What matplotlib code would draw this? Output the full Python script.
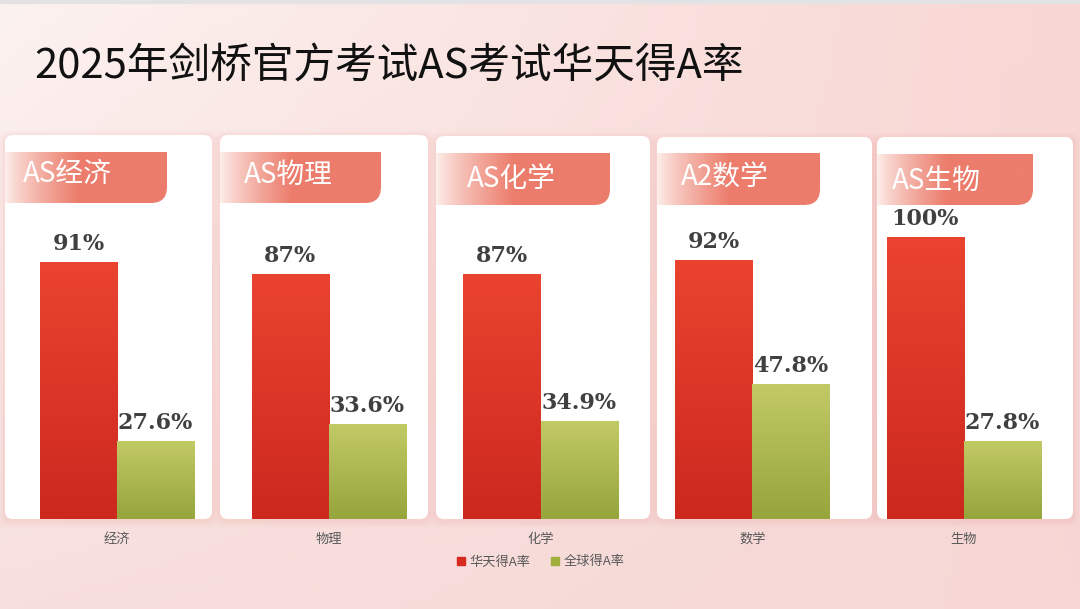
import matplotlib
matplotlib.use("Agg")
import matplotlib.pyplot as plt
from matplotlib.patches import FancyBboxPatch, PathPatch
from matplotlib.path import Path
from matplotlib.lines import Line2D
import numpy as np

plt.rcParams['font.family'] = ['Noto Sans CJK SC', 'DejaVu Sans']

# data
subjects = ["经济", "物理", "化学", "数学", "生物"]
tab_titles = ["AS经济", "AS物理", "AS化学", "A2数学", "AS生物"]
huatian_rate = [91, 87, 87, 92, 100]
global_rate = [27.6, 33.6, 34.9, 47.8, 27.8]
series_names = ["华天得A率", "全球得A率"]
title = "2025年剑桥官方考试AS考试华天得A率"

# layout (pixels, image coords)
W, H = 1080, 609
panel_x = [(5, 212), (220, 428), (436, 650), (657, 872), (877, 1073)]
panel_top = [135, 135, 136, 137, 137]
panel_bottom = 519
tab_right = [167, 381, 610, 820, 1033]
tab_y = [(152, 203), (152, 203), (153, 205), (153, 205), (154, 205)]
tab_text_x = [23, 244, 467, 681, 892]
tab_text_y = [174, 175, 179, 178, 181]

RED_TOP, RED_BOT = np.array([234, 67, 48]) / 255, np.array([204, 40, 30]) / 255
GRN_TOP, GRN_BOT = np.array([194, 202, 102]) / 255, np.array([150, 165, 60]) / 255

fig = plt.figure(figsize=(W / 100, H / 100), dpi=100)

# background layer in pixel coordinates
bg = fig.add_axes([0, 0, 1, 1])
bg.set_xlim(0, W)
bg.set_ylim(H, 0)
bg.axis("off")

tl, tr = np.array([252, 242, 240]), np.array([248, 214, 211])
bl, br = np.array([247, 223, 221]), np.array([246, 215, 213])
u = np.linspace(0, 1, 200)[None, :, None]
v = np.linspace(0, 1, 120)[:, None, None]
grad = ((1 - u) * (1 - v) * tl + u * (1 - v) * tr + (1 - u) * v * bl + u * v * br) / 255
bg.imshow(grad, extent=(0, W, H, 0), aspect="auto", zorder=0)
bg.add_patch(plt.Rectangle((0, 0), W, 3, color="#e3e3e5", zorder=1))

bg.text(34, 78, title, fontsize=30, fontweight="medium", color="#111111",
        va="baseline", ha="left", zorder=5)

tab_grad = np.zeros((1, 200, 3))
for i in range(200):
    t = min(i / 90.0, 1.0)
    c0 = np.array([253, 240, 236]) / 255
    c1 = np.array([236, 124, 107]) / 255
    tab_grad[0, i] = c0 + (c1 - c0) * (t ** 0.8)

for k in range(len(subjects)):
    x0, x1 = panel_x[k]
    y0 = panel_top[k]
    # soft glow
    for pad, a in [(6, 0.05), (4, 0.06), (2, 0.08)]:
        bg.add_patch(FancyBboxPatch((x0, y0 + 2), x1 - x0, panel_bottom - y0,
                                    boxstyle=f"round,pad={pad},rounding_size=10",
                                    fc=(0.93, 0.6, 0.58, a), ec="none", zorder=1))
    bg.add_patch(FancyBboxPatch((x0, y0), x1 - x0, panel_bottom - y0,
                                boxstyle="round,pad=0,rounding_size=8",
                                fc="white", ec="none", zorder=2))
    # tab with rounded bottom-right corner
    ty0, ty1 = tab_y[k]
    r = 16
    xr = tab_right[k]
    verts = [(x0, ty0), (xr, ty0), (xr, ty1 - r), (xr, ty1), (xr - r, ty1), (x0, ty1), (x0, ty0)]
    codes = [Path.MOVETO, Path.LINETO, Path.LINETO, Path.CURVE3, Path.CURVE3, Path.LINETO, Path.CLOSEPOLY]
    tab = PathPatch(Path(verts, codes), fc="none", ec="none", zorder=3)
    bg.add_patch(tab)
    im = bg.imshow(tab_grad, extent=(x0, xr, ty1, ty0), aspect="auto", zorder=3)
    im.set_clip_path(tab)
    bg.text(tab_text_x[k], tab_text_y[k], tab_titles[k], fontsize=20, color="white",
            ha="left", va="center", zorder=4)

bg.set_xlim(0, W)
bg.set_ylim(H, 0)

# bar layer
ax = fig.add_axes([11.1 / W, 1 - panel_bottom / H, (1069.9 - 11.1) / W, 282 / H])
ax.patch.set_alpha(0)
for s in ax.spines.values():
    s.set_visible(False)
x = np.arange(len(subjects))
bw = 0.364
b1 = ax.bar(x - bw / 2, huatian_rate, bw, color=RED_BOT, zorder=2)
b2 = ax.bar(x + bw / 2, global_rate, bw, color=GRN_BOT, zorder=2)


def vgrad(c_bot, c_top):
    t = np.linspace(0, 1, 100)[:, None, None]
    return c_bot + (c_top - c_bot) * t


for bars, cb, ct in [(b1, RED_BOT, RED_TOP), (b2, GRN_BOT, GRN_TOP)]:
    for rect in bars:
        bx, bh, wd = rect.get_x(), rect.get_height(), rect.get_width()
        im = ax.imshow(vgrad(cb, ct), extent=(bx, bx + wd, 0, bh), origin="lower",
                       aspect="auto", zorder=3)
        im.set_clip_path(rect)

for bars, vals, fmt in [(b1, huatian_rate, "{:d}%"), (b2, global_rate, "{:.1f}%")]:
    for rect, v in zip(bars, vals):
        ax.annotate(fmt.format(v), (rect.get_x() + rect.get_width() / 2, rect.get_height()),
                    xytext=(0, 5), textcoords="offset points", ha="center", va="bottom",
                    fontsize=16, fontweight="bold", family="DejaVu Serif", color="#404040",
                    zorder=5)

ax.set_xlim(-0.5, len(subjects) - 0.5)
ax.set_ylim(0, 100)
ax.set_yticks([])
ax.set_xticks(x)
ax.set_xticklabels(subjects, fontsize=9.5, color="#595959")
ax.tick_params(axis="x", length=0, pad=10)

handles = [Line2D([], [], ls="none", marker="s", ms=6, color="#d8291f"),
           Line2D([], [], ls="none", marker="s", ms=6, color="#9eaf3e")]
fig.legend(handles, series_names, loc="center", bbox_to_anchor=(0.5, 1 - 562 / H), ncol=2,
           frameon=False, fontsize=9.5, handlelength=0.8, handletextpad=0.3, columnspacing=1.4,
           labelcolor="#595959")

fig.savefig("out.png", dpi=100)
